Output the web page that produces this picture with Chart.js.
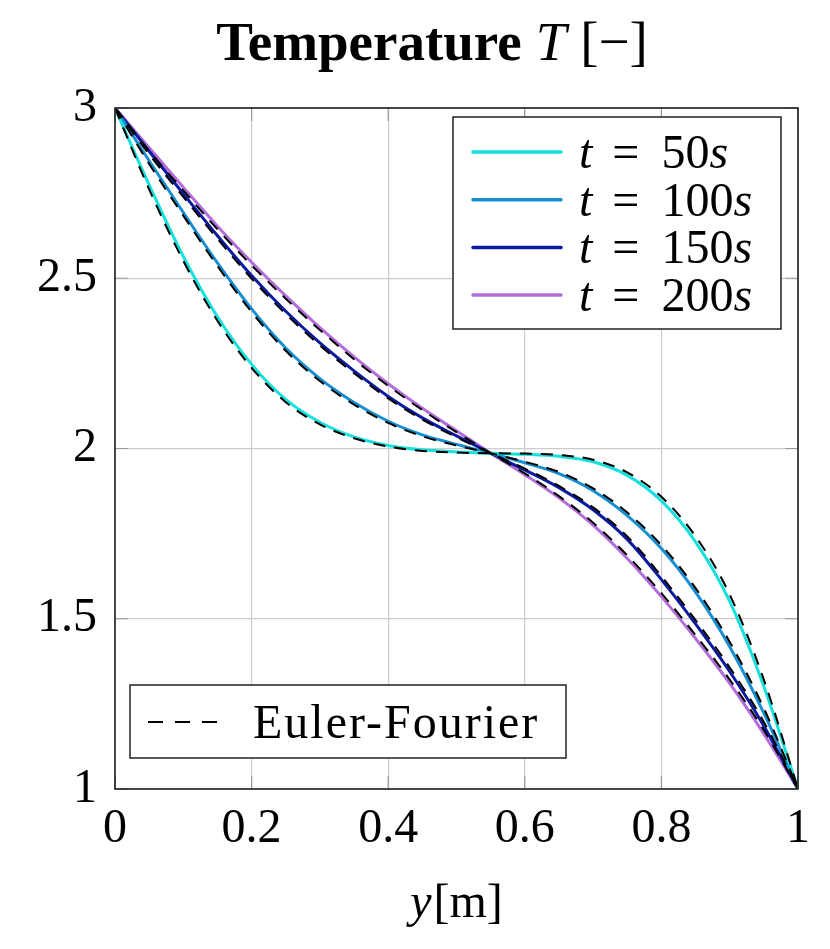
<!DOCTYPE html>
<html>
<head>
<meta charset="utf-8">
<script src="https://cdn.jsdelivr.net/npm/chart.js@4.4.1/dist/chart.umd.min.js"></script>
<style>
  html, body { margin: 0; padding: 0; background: #fff; }
  canvas { display: block; }
</style>
</head>
<body>
<canvas id="chart" width="830" height="949"></canvas>
<script>
// positions along y [m]
const xs = [0, 0.05, 0.1, 0.15, 0.2, 0.25, 0.3, 0.35, 0.4, 0.45, 0.5,
            0.55, 0.6, 0.65, 0.7, 0.75, 0.8, 0.85, 0.9, 0.95, 1];

// numerical solution
const t50  = [3, 2.774, 2.564, 2.387, 2.247, 2.144, 2.077, 2.034, 2.009, 1.996, 1.99,
              1.986, 1.983, 1.977, 1.961, 1.921, 1.846, 1.726, 1.551, 1.301, 1];
const t100 = [3, 2.845, 2.693, 2.545, 2.41, 2.295, 2.205, 2.135, 2.08, 2.04, 2.012,
              1.986, 1.958, 1.926, 1.876, 1.803, 1.706, 1.578, 1.418, 1.223, 1];
const t150 = [3, 2.873, 2.748, 2.625, 2.508, 2.403, 2.31, 2.228, 2.153, 2.09, 2.037,
              1.986, 1.937, 1.885, 1.82, 1.733, 1.615, 1.485, 1.345, 1.185, 1];
const t200 = [3, 2.883, 2.767, 2.653, 2.547, 2.448, 2.355, 2.269, 2.19, 2.118, 2.052,
              1.986, 1.923, 1.855, 1.775, 1.677, 1.565, 1.442, 1.31, 1.162, 1];

// Euler-Fourier (dashed), sits just beside each curve
const ef50  = [3, 2.761, 2.551, 2.375, 2.237, 2.136, 2.071, 2.03, 2.006, 1.993, 1.988,
               1.986, 1.985, 1.981, 1.967, 1.93, 1.858, 1.742, 1.571, 1.321, 1];
const ef100 = [3, 2.836, 2.684, 2.536, 2.401, 2.287, 2.198, 2.129, 2.075, 2.036, 2.009,
               1.986, 1.961, 1.931, 1.883, 1.812, 1.716, 1.59, 1.432, 1.237, 1];
const ef150 = [3, 2.864, 2.739, 2.616, 2.499, 2.395, 2.303, 2.221, 2.147, 2.085, 2.033,
               1.986, 1.941, 1.89, 1.827, 1.742, 1.625, 1.496, 1.357, 1.197, 1];
const ef200 = [3, 2.874, 2.758, 2.644, 2.538, 2.44, 2.348, 2.262, 2.184, 2.113, 2.048,
               1.986, 1.927, 1.86, 1.782, 1.686, 1.575, 1.452, 1.321, 1.173, 1];

const times = ['50', '100', '150', '200'];
const colors = ['#14e0dc', '#168fd2', '#0b1a9e', '#b36ddb'];

const xTicks = [0, 0.2, 0.4, 0.6, 0.8, 1];
const xTickLabels = ['0', '0.2', '0.4', '0.6', '0.8', '1'];
const yTicks = [1, 1.5, 2, 2.5, 3];
const yTickLabels = ['1', '1.5', '2', '2.5', '3'];

const FONT = '"Liberation Serif", "DejaVu Serif", serif';

const pts = vals => xs.map((x, i) => ({ x: x, y: vals[i] }));

const solid = [t50, t100, t150, t200].map((v, i) => ({
  label: 't = ' + times[i] + 's',
  data: pts(v),
  borderColor: colors[i],
  borderWidth: 3,
  pointRadius: 0,
  cubicInterpolationMode: 'monotone',
  order: 2
}));
const dashed = [ef50, ef100, ef150, ef200].map(v => ({
  label: 'Euler-Fourier',
  data: pts(v),
  borderColor: '#000',
  borderWidth: 2,
  borderDash: [12, 9],
  pointRadius: 0,
  cubicInterpolationMode: 'monotone',
  order: 1
}));

// draws pieces of text with different styles one after the other
function drawPieces(ctx, pieces, x, y) {
  pieces.forEach(p => {
    ctx.font = p.font;
    ctx.fillText(p.text, x, y);
    x += ctx.measureText(p.text).width + (p.gap || 0);
  });
}
function piecesWidth(ctx, pieces) {
  let w = 0;
  pieces.forEach(p => {
    ctx.font = p.font;
    w += ctx.measureText(p.text).width + (p.gap || 0);
  });
  return w;
}

const decorations = {
  id: 'decorations',
  afterDraw(chart) {
    const ctx = chart.ctx;
    const a = chart.chartArea;
    const xs_ = chart.scales.x, ys_ = chart.scales.y;
    ctx.save();

    // small ticks on the frame
    ctx.strokeStyle = '#999';
    ctx.lineWidth = 1.2;
    xTicks.forEach(v => {
      const px = xs_.getPixelForValue(v);
      ctx.beginPath();
      ctx.moveTo(px, a.bottom); ctx.lineTo(px, a.bottom - 13);
      ctx.moveTo(px, a.top); ctx.lineTo(px, a.top + 13);
      ctx.stroke();
    });
    yTicks.forEach(v => {
      const py = ys_.getPixelForValue(v);
      ctx.beginPath();
      ctx.moveTo(a.left, py); ctx.lineTo(a.left + 13, py);
      ctx.moveTo(a.right, py); ctx.lineTo(a.right - 13, py);
      ctx.stroke();
    });

    // frame
    ctx.strokeStyle = '#222';
    ctx.lineWidth = 1.6;
    ctx.strokeRect(a.left, a.top, a.right - a.left, a.bottom - a.top);

    ctx.fillStyle = '#000';
    ctx.textBaseline = 'alphabetic';
    ctx.textAlign = 'left';

    // title
    const title = [
      { text: 'Temperature', font: 'bold 55px ' + FONT, gap: 14 },
      { text: 'T', font: 'italic 55px ' + FONT, gap: 14 },
      { text: '[\u2212]', font: '55px ' + FONT }
    ];
    drawPieces(ctx, title, 432 - piecesWidth(ctx, title) / 2, 60);

    // x axis label
    const xl = [
      { text: 'y', font: 'italic 48px ' + FONT, gap: 2 },
      { text: '[m]', font: '48px ' + FONT }
    ];
    drawPieces(ctx, xl, (a.left + a.right) / 2 - piecesWidth(ctx, xl) / 2, 917);

    // legend for the numerical curves
    ctx.fillStyle = '#fff';
    ctx.fillRect(453, 117, 328, 212);
    ctx.strokeStyle = '#222';
    ctx.lineWidth = 1.5;
    ctx.strokeRect(453, 117, 328, 212);
    times.forEach((t, i) => {
      const ry = 152 + i * 47.7;
      ctx.strokeStyle = colors[i];
      ctx.lineWidth = 3.5;
      ctx.lineCap = 'round';
      ctx.beginPath();
      ctx.moveTo(473, ry); ctx.lineTo(561, ry);
      ctx.stroke();
      ctx.fillStyle = '#000';
      drawPieces(ctx, [
        { text: 't', font: 'italic 48px ' + FONT, gap: 20 },
        { text: '=', font: '48px ' + FONT, gap: 22 },
        { text: t, font: '48px ' + FONT },
        { text: 's', font: 'italic 48px ' + FONT }
      ], 579, ry + 16);
    });

    // legend for Euler-Fourier
    ctx.fillStyle = '#fff';
    ctx.fillRect(130, 685, 436, 73);
    ctx.strokeStyle = '#222';
    ctx.lineWidth = 1.5;
    ctx.lineCap = 'butt';
    ctx.strokeRect(130, 685, 436, 73);
    ctx.strokeStyle = '#000';
    ctx.lineWidth = 2;
    ctx.setLineDash([15, 12]);
    ctx.beginPath();
    ctx.moveTo(148, 722); ctx.lineTo(220, 722);
    ctx.stroke();
    ctx.setLineDash([]);
    ctx.fillStyle = '#000';
    ctx.font = '48px ' + FONT;
    ctx.letterSpacing = '2px';
    ctx.fillText('Euler-Fourier', 253, 738);
    ctx.letterSpacing = '0px';

    ctx.restore();
  }
};

new Chart(document.getElementById('chart'), {
  type: 'line',
  data: { datasets: solid.concat(dashed) },
  options: {
    responsive: false,
    animation: false,
    devicePixelRatio: 1,
    layout: { padding: { left: 0, right: 32, top: 108, bottom: 0 } },
    plugins: { legend: { display: false }, tooltip: { enabled: false } },
    scales: {
      x: {
        type: 'linear',
        min: 0,
        max: 1,
        afterBuildTicks: s => { s.ticks = xTicks.map(v => ({ value: v })); },
        afterFit: s => { s.height = 160; },
        ticks: {
          callback: (v, i) => xTickLabels[i],
          font: { family: FONT, size: 48 },
          color: '#000',
          padding: 12,
          maxRotation: 0
        },
        grid: { color: '#cccccc', lineWidth: 1.2, drawTicks: false },
        border: { display: false }
      },
      y: {
        type: 'linear',
        min: 1,
        max: 3,
        afterBuildTicks: s => { s.ticks = yTicks.map(v => ({ value: v })); },
        afterFit: s => { s.width = 115; },
        ticks: {
          callback: (v, i) => yTickLabels[i],
          font: { family: FONT, size: 48 },
          color: '#000',
          padding: 18
        },
        grid: { color: '#cccccc', lineWidth: 1.2, drawTicks: false },
        border: { display: false }
      }
    }
  },
  plugins: [decorations]
});
</script>
</body>
</html>
